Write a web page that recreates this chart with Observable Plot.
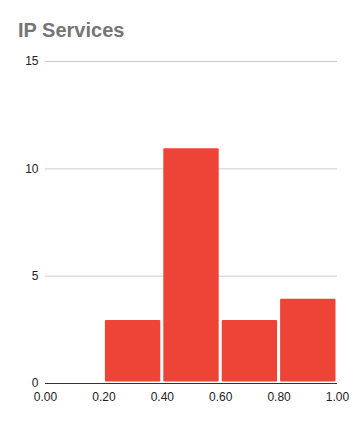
<!DOCTYPE html>
<html>
<head>
<meta charset="utf-8">
<script src="https://cdn.jsdelivr.net/npm/d3@7"></script>
<script src="https://cdn.jsdelivr.net/npm/@observablehq/plot@0.6"></script>
<style>
  html, body { margin: 0; padding: 0; background: #fff; }
  #wrap { position: relative; width: 355px; height: 421px; overflow: hidden; }
  #title { position: absolute; left: 18px; top: 19px; font-family: "Liberation Sans", Arial, sans-serif; font-weight: bold; font-size: 20px; line-height: 22px; color: #757575; }
  #chart { position: absolute; left: 0; top: 50px; }
</style>
</head>
<body>
<div id="wrap">
  <div id="title">IP Services</div>
  <div id="chart"></div>
</div>
<script>
const binStarts = [0.0, 0.2, 0.4, 0.6, 0.8];
const binEnds   = [0.2, 0.4, 0.6, 0.8, 1.0];
const counts    = [0, 3, 11, 3, 4];
const xTicks = [0, 0.2, 0.4, 0.6, 0.8, 1.0];
const yTicks = [0, 5, 10, 15];

const bins = binStarts.map((s, i) => ({x1: s, x2: binEnds[i], y: counts[i]})).filter(d => d.y > 0);

const chart = Plot.plot({
  width: 355,
  height: 371,
  marginTop: 11,
  marginBottom: 38,
  marginLeft: 45,
  marginRight: 18,
  style: {fontFamily: "'Liberation Sans', Arial, sans-serif", fontSize: "12px", color: "#222", background: "#fff"},
  x: {domain: [0, 1], ticks: xTicks, tickFormat: d3.format(".2f"), tickSize: 0, tickPadding: 9, label: null},
  y: {domain: [0, 15], ticks: yTicks, tickSize: 0, tickPadding: 7, label: null},
  marks: [
    Plot.ruleY(yTicks.filter(t => t > 0), {stroke: "#cccccc", strokeWidth: 1}),
    Plot.rectY(bins, {x1: "x1", x2: "x2", y: "y", fill: "#ee4337", inset: 1.5, rx: 1}),
    Plot.ruleY([0], {stroke: "#333333", strokeWidth: 1.2})
  ]
});
document.getElementById("chart").appendChild(chart);
</script>
</body>
</html>
